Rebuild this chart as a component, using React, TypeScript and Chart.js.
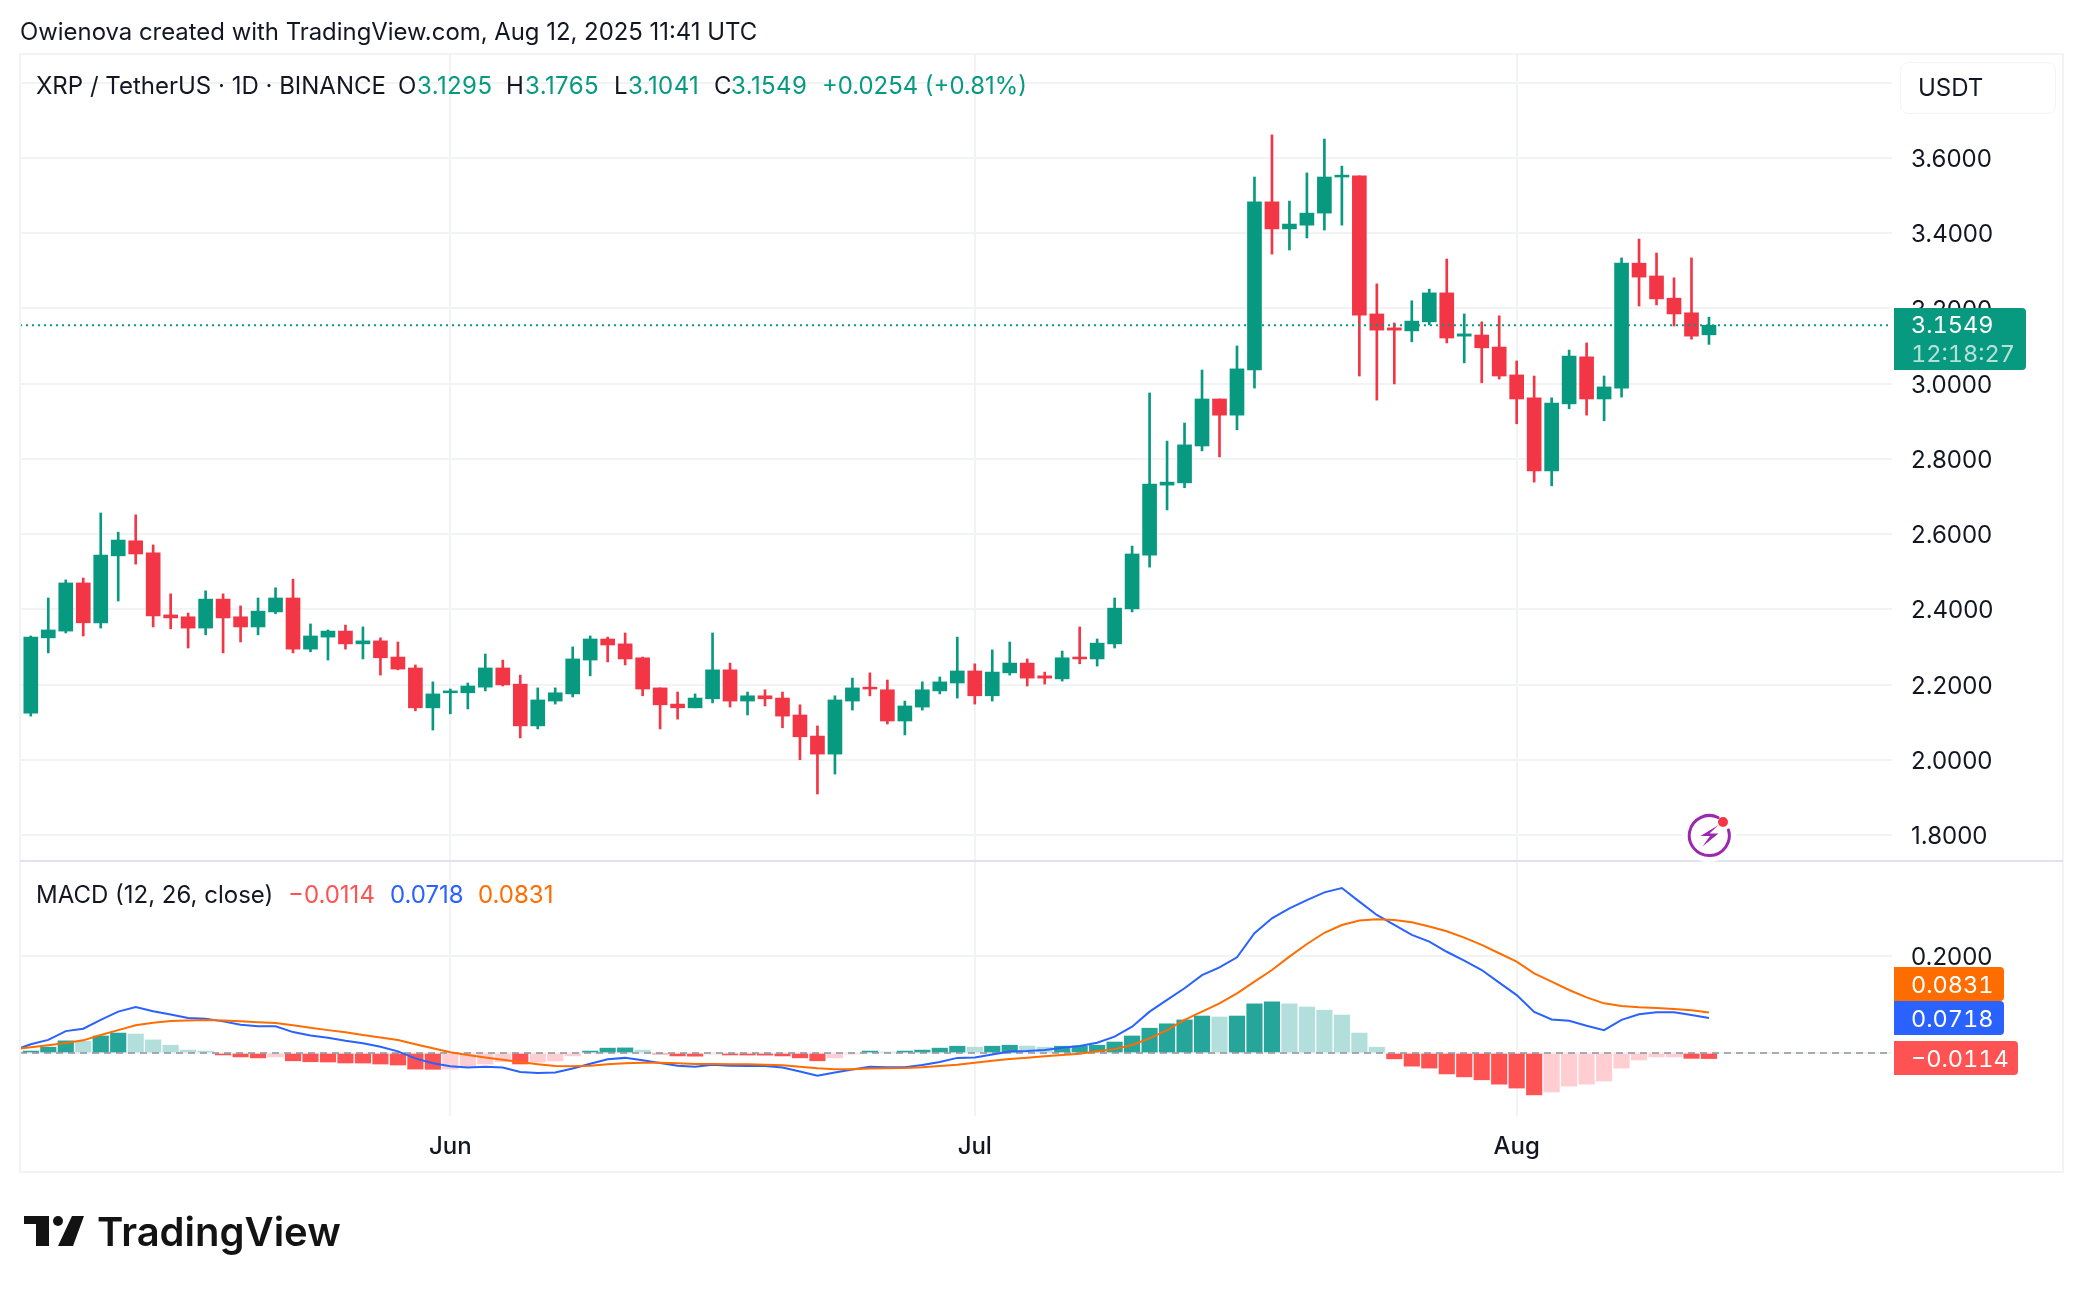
import React, { useEffect, useRef } from "react";
import { Chart, registerables } from "chart.js";

Chart.register(...registerables);

// Daily candles, first entry is 8 May 2025, last is 12 Aug 2025
const opens = [2.124,2.324,2.342,2.470,2.364,2.542,2.582,2.550,2.385,2.380,2.350,2.427,2.380,2.353,2.393,2.430,2.294,2.326,2.342,2.308,2.316,2.273,2.244,2.138,2.178,2.178,2.193,2.244,2.201,2.090,2.156,2.175,2.265,2.321,2.308,2.271,2.191,2.148,2.138,2.162,2.239,2.156,2.170,2.164,2.119,2.063,2.015,2.156,2.193,2.186,2.103,2.140,2.183,2.204,2.236,2.170,2.231,2.257,2.223,2.215,2.273,2.268,2.308,2.401,2.544,2.730,2.736,2.834,2.959,2.916,3.036,3.483,3.411,3.421,3.453,3.549,3.552,3.185,3.148,3.140,3.164,3.241,3.126,3.129,3.097,3.023,2.962,2.768,2.946,3.071,2.959,2.988,3.320,3.286,3.227,3.188,3.1295];
const highs = [2.329,2.430,2.478,2.483,2.656,2.605,2.651,2.571,2.441,2.390,2.449,2.441,2.409,2.430,2.457,2.480,2.361,2.345,2.358,2.353,2.324,2.313,2.252,2.207,2.188,2.204,2.281,2.265,2.225,2.191,2.191,2.300,2.329,2.326,2.337,2.273,2.191,2.180,2.175,2.337,2.257,2.180,2.186,2.180,2.146,2.090,2.170,2.217,2.231,2.212,2.156,2.207,2.220,2.326,2.255,2.292,2.313,2.268,2.233,2.289,2.353,2.321,2.430,2.568,2.975,2.847,2.895,3.036,2.959,3.100,3.549,3.661,3.485,3.560,3.650,3.578,3.552,3.265,3.161,3.220,3.251,3.331,3.185,3.164,3.180,3.060,3.020,2.962,3.089,3.108,3.020,3.334,3.384,3.347,3.281,3.334,3.1765];
const lows = [2.116,2.284,2.337,2.329,2.350,2.422,2.520,2.353,2.348,2.297,2.332,2.284,2.313,2.332,2.388,2.284,2.287,2.265,2.294,2.268,2.225,2.239,2.130,2.079,2.122,2.135,2.183,2.196,2.058,2.082,2.148,2.167,2.223,2.260,2.252,2.170,2.082,2.108,2.138,2.151,2.140,2.119,2.143,2.085,2.000,1.909,1.962,2.132,2.170,2.095,2.066,2.132,2.175,2.164,2.148,2.156,2.225,2.196,2.201,2.209,2.255,2.249,2.297,2.393,2.512,2.664,2.723,2.821,2.805,2.877,2.988,3.344,3.355,3.387,3.408,3.421,3.020,2.956,2.999,3.111,3.156,3.108,3.055,3.002,3.012,2.893,2.738,2.728,2.933,2.916,2.901,2.964,3.206,3.209,3.153,3.118,3.1041];
const closes = [2.326,2.345,2.470,2.364,2.544,2.584,2.547,2.382,2.377,2.350,2.427,2.377,2.353,2.395,2.430,2.294,2.329,2.342,2.308,2.316,2.271,2.241,2.138,2.175,2.183,2.196,2.244,2.199,2.090,2.159,2.178,2.268,2.321,2.305,2.268,2.188,2.146,2.138,2.164,2.239,2.156,2.170,2.162,2.116,2.061,2.015,2.159,2.191,2.188,2.103,2.143,2.186,2.207,2.236,2.170,2.233,2.257,2.217,2.217,2.271,2.268,2.310,2.403,2.547,2.733,2.738,2.837,2.959,2.916,3.039,3.483,3.411,3.424,3.453,3.549,3.554,3.182,3.142,3.142,3.166,3.241,3.121,3.132,3.095,3.020,2.959,2.768,2.948,3.073,2.959,2.991,3.320,3.283,3.225,3.185,3.126,3.1549];

// MACD histogram, one value per candle
const histogram = [0.004,0.012,0.025,0.024,0.035,0.041,0.039,0.027,0.016,0.006,0.004,-0.004,-0.008,-0.010,-0.008,-0.016,-0.018,-0.0185,-0.0205,-0.0206,-0.0226,-0.0247,-0.033,-0.0335,-0.033,-0.029,-0.0226,-0.018,-0.0226,-0.0185,-0.0164,-0.006,0.004,0.010,0.0105,0.006,-0.002,-0.006,-0.0065,-0.002,-0.004,-0.0042,-0.0044,-0.006,-0.010,-0.016,-0.010,-0.002,0.004,0.002,0.004,0.006,0.010,0.014,0.012,0.014,0.016,0.0144,0.012,0.014,0.0144,0.016,0.0226,0.035,0.051,0.060,0.068,0.076,0.074,0.076,0.101,0.105,0.101,0.0945,0.088,0.078,0.041,0.012,-0.012,-0.027,-0.031,-0.043,-0.049,-0.055,-0.064,-0.072,-0.086,-0.080,-0.068,-0.064,-0.0575,-0.031,-0.0144,-0.008,-0.008,-0.011,-0.0114];

// MACD and signal lines: the first value belongs to the day before the first candle
const macdLine = [0.005,0.018,0.027,0.045,0.050,0.068,0.085,0.0945,0.086,0.079,0.072,0.0705,0.065,0.058,0.055,0.055,0.043,0.036,0.0315,0.025,0.020,0.013,0.0034,-0.011,-0.021,-0.027,-0.030,-0.028,-0.030,-0.039,-0.041,-0.040,-0.032,-0.022,-0.013,-0.010,-0.015,-0.0205,-0.026,-0.028,-0.024,-0.026,-0.0267,-0.0267,-0.030,-0.038,-0.0466,-0.040,-0.034,-0.028,-0.0295,-0.029,-0.0247,-0.0185,-0.010,-0.009,-0.003,0.003,0.004,0.006,0.011,0.0144,0.021,0.0336,0.054,0.085,0.109,0.133,0.160,0.176,0.1966,0.246,0.2767,0.297,0.314,0.330,0.339,0.311,0.2836,0.263,0.2425,0.2288,0.208,0.190,0.1705,0.1445,0.119,0.0842,0.069,0.0664,0.056,0.047,0.068,0.0795,0.0836,0.0836,0.078,0.0718];
const signalLine = [0.008,0.0116,0.016,0.0205,0.026,0.037,0.047,0.057,0.0623,0.0658,0.067,0.0678,0.067,0.065,0.063,0.0616,0.057,0.052,0.047,0.0425,0.037,0.032,0.0267,0.018,0.0096,0.0014,-0.004,-0.009,-0.0137,-0.0185,-0.023,-0.0267,-0.0274,-0.026,-0.0233,-0.021,-0.02,-0.02,-0.021,-0.0226,-0.0226,-0.0233,-0.0233,-0.024,-0.0253,-0.028,-0.0315,-0.0336,-0.0336,-0.032,-0.0315,-0.031,-0.0295,-0.0267,-0.024,-0.02,-0.0158,-0.0123,-0.0096,-0.0068,-0.004,-0.0014,0.0034,0.008,0.0164,0.030,0.047,0.068,0.085,0.102,0.1226,0.1466,0.1705,0.198,0.224,0.247,0.263,0.272,0.2747,0.2733,0.2685,0.260,0.25,0.237,0.222,0.205,0.1877,0.1637,0.1466,0.1295,0.1144,0.102,0.0966,0.0938,0.0925,0.0904,0.0877,0.0831];

const lastPrice = [3.1549];
const zeroLevel = [0];
const priceTicks = [1.8, 2.0, 2.2, 2.4, 2.6, 2.8, 3.0, 3.2, 3.4, 3.6, 3.8];
const macdTicks = [0, 0.2];
const monthTickIndex = [24, 54, 85];
const monthTickLabels = ["Jun", "Jul", "Aug"];

const GREEN = "#089981";
const RED = "#f23645";
const BLUE = "#2962ff";
const ORANGE = "#ff6d00";
const INK = "#131722";
const GRID = "#f2f3f4";
const FONT = "Inter, 'Liberation Sans', sans-serif";

const X_MIN = -0.618;
const X_MAX = 106.47;

function histColor(i: number) {
  const v = histogram[i];
  const prev = i > 0 ? histogram[i - 1] : 0;
  if (v >= 0) return v >= prev ? "#26a69a" : "#b2dfdb";
  return v < prev ? "#ff5252" : "#ffcdd2";
}

// moves a vertical axis' labels down by one pixel so that the digits centre on the grid line
function nudgeLabels(s: any) {
  const orig = s._computeLabelItems.bind(s);
  s._computeLabelItems = (area: any) =>
    orig(area).map((it: any) => ({
      ...it,
      options: { ...it.options, translation: [it.options.translation[0], it.options.translation[1] + 1] },
    }));
}

function Label(props: { x: number; y: number; color?: string; size?: number; weight?: number; num?: boolean; track?: number; children: React.ReactNode }) {
  const { x, y, color = INK, size = 24, weight = 400, num = false, track = 0, children } = props;
  return (
    <span
      style={{
        position: "absolute",
        left: x,
        top: y,
        transform: "translateY(-50%)",
        color,
        fontSize: size,
        fontWeight: weight,
        fontFamily: FONT,
        fontVariantNumeric: num ? "tabular-nums" : "normal",
        letterSpacing: track,
        lineHeight: 1,
        whiteSpace: "nowrap",
      }}
    >
      {children}
    </span>
  );
}

function Box(props: { x: number; y: number; w: number; h: number; bg: string; children?: React.ReactNode }) {
  return (
    <div
      style={{
        position: "absolute",
        left: props.x,
        top: props.y,
        width: props.w,
        height: props.h,
        background: props.bg,
        borderRadius: "0 4px 4px 0",
      }}
    />
  );
}

export default function App() {
  const ref = useRef<HTMLCanvasElement | null>(null);

  useEffect(() => {
    if (!ref.current) return;
    const idx = closes.map((_, i) => i);
    const candleColors = idx.map((i) => (closes[i] >= opens[i] ? GREEN : RED));
    const chart = new Chart(ref.current, {
      type: "bar",
      data: {
        datasets: [
          {
            label: "Wick",
            data: idx.map((i) => ({ x: i, y: [lows[i], highs[i]] })) as any,
            backgroundColor: candleColors,
            barThickness: 2,
            grouped: false,
            yAxisID: "y",
            order: 5,
          },
          {
            label: "Body",
            data: idx.map((i) => ({ x: i, y: [Math.min(opens[i], closes[i]), Math.max(opens[i], closes[i])] })) as any,
            backgroundColor: candleColors,
            barThickness: 14,
            grouped: false,
            yAxisID: "y",
            order: 4,
          },
          {
            label: "Histogram",
            data: idx.map((i) => ({ x: i, y: histogram[i] })) as any,
            backgroundColor: idx.map(histColor),
            barThickness: 15.5,
            grouped: false,
            yAxisID: "y2",
            order: 6,
          },
          {
            type: "line",
            label: "Zero",
            data: [{ x: X_MIN, y: zeroLevel[0] }, { x: X_MAX, y: zeroLevel[0] }] as any,
            borderColor: "rgba(120,123,134,0.6)",
            borderWidth: 2,
            borderDash: [7, 5],
            pointRadius: 0,
            yAxisID: "y2",
            order: 3,
          },
          {
            type: "line",
            label: "Signal",
            data: signalLine.map((v, i) => ({ x: i - 1, y: v })) as any,
            borderColor: ORANGE,
            borderWidth: 2,
            pointRadius: 0,
            tension: 0,
            yAxisID: "y2",
            order: 1,
          },
          {
            type: "line",
            label: "MACD",
            data: macdLine.map((v, i) => ({ x: i - 1, y: v })) as any,
            borderColor: BLUE,
            borderWidth: 2,
            pointRadius: 0,
            tension: 0,
            yAxisID: "y2",
            order: 2,
          },
          {
            type: "line",
            label: "Last",
            data: [{ x: X_MIN, y: lastPrice[0] }, { x: X_MAX, y: lastPrice[0] }] as any,
            borderColor: GREEN,
            borderWidth: 2,
            borderDash: [2, 4],
            pointRadius: 0,
            yAxisID: "y",
            order: 0,
          },
        ],
      },
      options: {
        responsive: false,
        animation: false,
        devicePixelRatio: 1,
        layout: { padding: { left: 20, top: 54, right: 21, bottom: 120 } },
        plugins: { legend: { display: false }, tooltip: { enabled: false }, title: { display: false } },
        events: [],
        scales: {
          x: {
            type: "linear",
            offset: false,
            min: X_MIN,
            max: X_MAX,
            afterBuildTicks: (s: any) => {
              s.ticks = monthTickIndex.map((value) => ({ value }));
            },
            afterFit: (s: any) => {
              s.height = 56;
            },
            grid: { color: GRID, lineWidth: 2, drawTicks: false, offset: false },
            border: { display: false },
            ticks: {
              autoSkip: false,
              maxRotation: 0,
              padding: 16,
              color: INK,
              font: { family: FONT, size: 24, weight: 500 },
              callback: (v: any) => monthTickLabels[monthTickIndex.indexOf(Number(v))] ?? "",
            },
          },
          y: {
            type: "linear",
            position: "right",
            stack: "right",
            stackWeight: 808,
            weight: 0,
            min: 1.7282,
            max: 3.876,
            afterBuildTicks: (s: any) => {
              s.ticks = priceTicks.map((value) => ({ value }));
            },
            afterFit: (s: any) => {
              s.width = 171;
            },
            afterUpdate: nudgeLabels,
            grid: { color: GRID, lineWidth: 2, drawTicks: false },
            border: { display: false },
            ticks: {
              padding: 19,
              autoSkip: false,
              color: INK,
              font: { family: FONT, size: 24 },
              callback: (v: any) => (Number(v) > 3.7 ? "" : Number(v).toFixed(4)),
            },
          },
          y2: {
            type: "linear",
            position: "right",
            stack: "right",
            stackWeight: 254,
            weight: 1,
            min: -0.1294,
            max: 0.3924,
            afterBuildTicks: (s: any) => {
              s.ticks = macdTicks.map((value) => ({ value }));
            },
            afterFit: (s: any) => {
              s.width = 171;
            },
            afterUpdate: nudgeLabels,
            grid: { color: GRID, lineWidth: 2, drawTicks: false },
            border: { display: false },
            ticks: {
              padding: 19,
              autoSkip: false,
              color: INK,
              font: { family: FONT, size: 24 },
              callback: (v: any) => (Number(v) === 0 ? "" : Number(v).toFixed(4)),
            },
          },
        },
      },
    } as any);
    return () => chart.destroy();
  }, []);

  return (
    <div style={{ position: "absolute", left: 0, top: 0, width: 2084, height: 1292, background: "#fff", overflow: "hidden" }}>
      <canvas ref={ref} width={2084} height={1292} style={{ position: "absolute", left: 0, top: 0, width: 2084, height: 1292 }} />

      {/* frame and pane separator */}
      <div style={{ position: "absolute", left: 19, top: 53, width: 2045, height: 1120, boxSizing: "border-box", border: "2px solid #f2f3f4" }} />
      <div style={{ position: "absolute", left: 20, top: 860, width: 2043, height: 2, background: "#e0e3eb" }} />

      <Label x={20} y={32} size={23.9}>Owienova created with TradingView.com, Aug 12, 2025 11:41 UTC</Label>

      <Label x={36} y={86}>XRP / TetherUS · 1D · BINANCE</Label>
      <Label x={398} y={86}>O</Label>
      <Label x={417} y={86} color={GREEN} track={0.4}>3.1295</Label>
      <Label x={506} y={86}>H</Label>
      <Label x={525} y={86} color={GREEN} track={0.4}>3.1765</Label>
      <Label x={614} y={86}>L</Label>
      <Label x={628} y={86} color={GREEN} track={0.4}>3.1041</Label>
      <Label x={714} y={86}>C</Label>
      <Label x={731} y={86} color={GREEN} track={0.4}>3.1549</Label>
      <Label x={822} y={86} color={GREEN} size={23.9}>+0.0254 (+0.81%)</Label>

      <Label x={36} y={895}>MACD (12, 26, close)</Label>
      <Label x={288} y={895} color="#ff5252">−0.0114</Label>
      <Label x={390} y={895} color={BLUE}>0.0718</Label>
      <Label x={478} y={895} color={ORANGE}>0.0831</Label>

      {/* currency box */}
      <div style={{ position: "absolute", left: 1900, top: 62, width: 156, height: 52, boxSizing: "border-box", border: "1.5px solid #f0f3fa", borderRadius: 8, background: "#fff" }} />
      <Label x={1918} y={88}>USDT</Label>

      {/* last price tag */}
      <Box x={1894} y={308} w={132} h={62} bg={GREEN} />
      <Label x={1911} y={325} color="#fff" num size={23.5}>3.1549</Label>
      <Label x={1911} y={354} color="rgba(255,255,255,0.7)" num size={23.5}>12:18:27</Label>

      {/* MACD tags */}
      <Box x={1894} y={967} w={110} h={34} bg={ORANGE} />
      <Label x={1911} y={985} color="#fff" num size={23.5}>0.0831</Label>
      <Box x={1894} y={1001} w={110} h={34} bg={BLUE} />
      <Label x={1911} y={1019} color="#fff" num size={23.5}>0.0718</Label>
      <Box x={1894} y={1041} w={124} h={34} bg="#ff5252" />
      <Label x={1911} y={1059} color="#fff" num size={23.5}>−0.0114</Label>

      {/* lightning badge */}
      <svg style={{ position: "absolute", left: 1680, top: 806 }} width="58" height="58" viewBox="0 0 58 58">
        <circle cx="29" cy="29" r="27" fill="#fff" />
        <path d="M 38 11.5 A 20 20 0 1 0 48.5 24" fill="none" stroke="#9c27b0" strokeWidth="3" strokeLinecap="round" />
        <path d="M 38.5 19 L 20.5 30 L 30 30 L 22.5 40.5 L 38.5 27.5 L 29.5 27.5 Z" fill="#9c27b0" />
        <circle cx="43" cy="16" r="5" fill="#f23645" />
      </svg>

      {/* TradingView logo */}
      <svg style={{ position: "absolute", left: 24, top: 1216 }} width="60" height="30" viewBox="0 0 60 30">
        <path d="M0 0 H25 V30 H12 V8 H0 Z" fill="#131313" />
        <circle cx="34" cy="5" r="5" fill="#131313" />
        <path d="M48 0 H60 L49 30 H34 Z" fill="#131313" />
      </svg>
      <Label x={97} y={1232} size={40} weight={600} color="#131313">TradingView</Label>
    </div>
  );
}
